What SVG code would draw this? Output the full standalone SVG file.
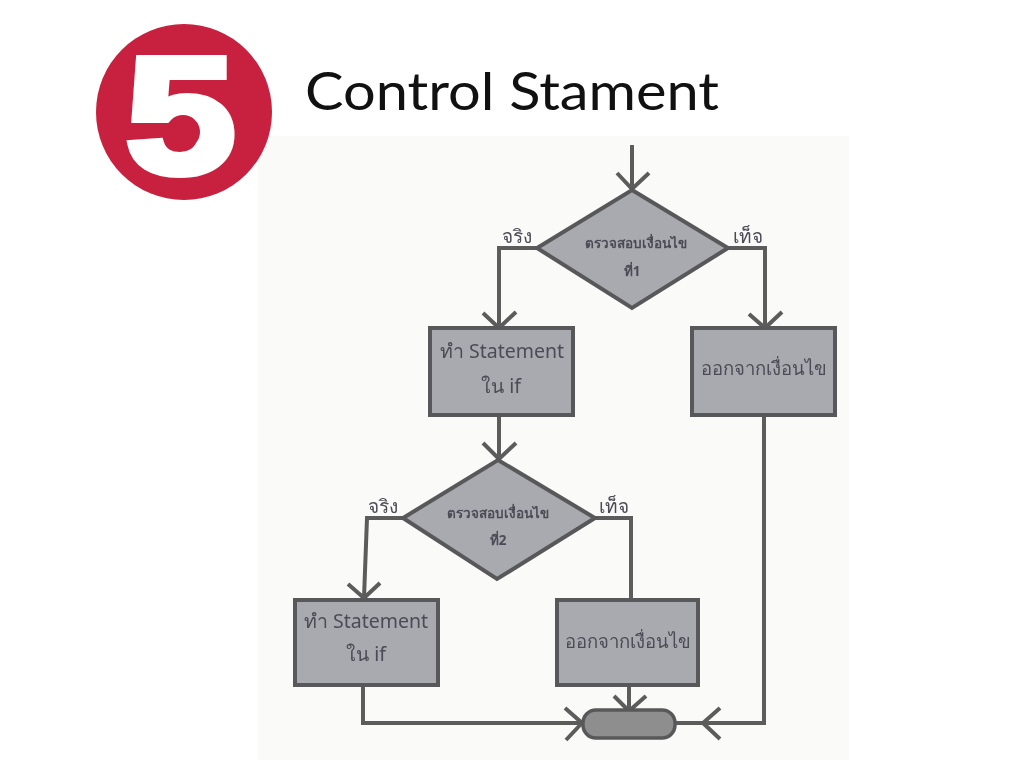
<svg xmlns="http://www.w3.org/2000/svg" width="1024" height="768" viewBox="0 0 1024 768">
<style>
.n{fill:#a9a9b0;stroke:#58585a;stroke-width:4}
.c{fill:none;stroke:#5c5c5c;stroke-width:4}
.t{font-family:"Noto Sans","DejaVu Sans",sans-serif;fill:#4c4c56;text-anchor:middle;font-size:19.5px}
.s{font-size:13.5px;font-weight:bold}
.l{font-size:19px}
.e{font-size:18.5px}
</style>
<defs><filter id="b" x="-5%" y="-5%" width="110%" height="110%"><feGaussianBlur stdDeviation="0.7"/></filter></defs>
<rect width="1024" height="768" fill="#fff"/>
<rect x="258" y="136" width="591" height="624" fill="#fafaf8"/>
<g id="logo">
<circle cx="184" cy="112" r="88" fill="#c8203f"/>
<text transform="translate(126 172) scale(1.19 1)" font-family="Liberation Sans,sans-serif" font-weight="bold" font-size="165" fill="#fff" stroke="#fff" stroke-width="8">5</text>
<path d="M120 123H172V136H120Z" fill="#c8203f"/>
<circle cx="183" cy="132" r="17" fill="#c8203f"/>
</g>
<text id="title" x="305" y="110" font-family="Lato,sans-serif" font-size="52" fill="#111" textLength="414" lengthAdjust="spacingAndGlyphs">Control Stament</text>
<g filter="url(#b)">
<g id="connectors" class="c">
<path d="M632 145V189M617 173L632 189L649 173"/>
<path d="M537 248H499V328M483 313L499 328L516 312"/>
<path d="M728 248H765V328M749 314L765 328L782 312"/>
<path d="M499 415V459M483 443L499 459L516 443"/>
<path d="M403 518H367L364 598M348 584L364 598L380 583"/>
<path d="M595 518H631V600"/>
<path d="M629 685V711M614 696L629 711L646 696"/>
<path d="M363 685V723H582M565 708L582 723L566 740"/>
<path d="M764 415V723H676M720 708L703 723L720 739"/>
</g>
<g id="d1"><polygon class="n" points="632,190 728,248 632,308 537,248"/><text class="t s" x="636" y="248">ตรวจสอบเงื่อนไข</text><text class="t s" x="632" y="276">ที่1</text></g>
<g id="p1"><rect class="n" x="430" y="328" width="143" height="87"/><text class="t" x="502" y="358">ทำ Statement</text><text class="t" x="501" y="393">ใน if</text></g>
<g id="p2"><rect class="n" x="692" y="328" width="143" height="87"/><text class="t e" x="764" y="375">ออกจากเงื่อนไข</text></g>
<g id="d2"><polygon class="n" points="498,460 595,518 497,579 403,518"/><text class="t s" x="498" y="518">ตรวจสอบเงื่อนไข</text><text class="t s" x="498" y="545">ที่2</text></g>
<g id="p3"><rect class="n" x="295" y="600" width="143" height="85"/><text class="t" x="366" y="628">ทำ Statement</text><text class="t" x="366" y="661">ใน if</text></g>
<g id="p4"><rect class="n" x="557" y="600" width="141" height="85"/><text class="t e" x="628" y="648">ออกจากเงื่อนไข</text></g>
<g id="end"><rect x="583" y="710" width="92" height="28" rx="13" fill="#8e8e8e" stroke="#58585a" stroke-width="3.5"/></g>
<g id="labels">
<text class="t l" x="517" y="243">จริง</text><text class="t l" x="748" y="243">เท็จ</text>
<text class="t l" x="383" y="513">จริง</text><text class="t l" x="614" y="513">เท็จ</text>
</g>
</g>
</svg>
